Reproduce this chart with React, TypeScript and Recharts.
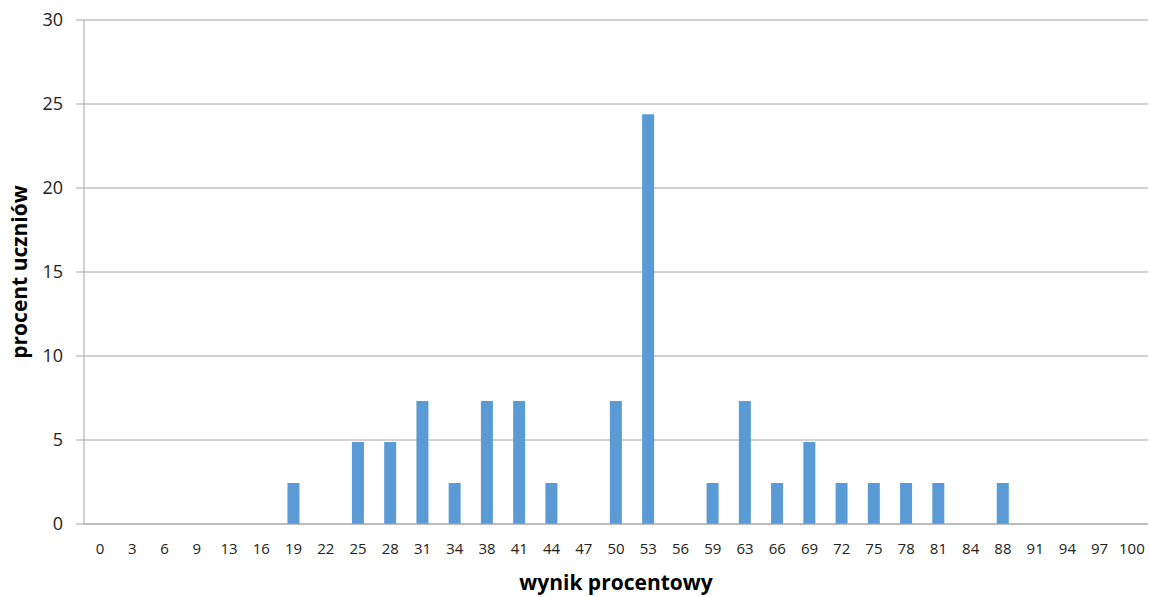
import { BarChart, Bar, XAxis, YAxis, CartesianGrid } from "recharts";

// wynik procentowy -> procent uczniów (41 uczniów)
const categories = [
  "0", "3", "6", "9", "13", "16", "19", "22", "25", "28", "31", "34", "38",
  "41", "44", "47", "50", "53", "56", "59", "63", "66", "69", "72", "75",
  "78", "81", "84", "88", "91", "94", "97", "100",
];
const percents = [
  0, 0, 0, 0, 0, 0, 2.44, 0, 4.88, 4.88, 7.32, 2.44, 7.32,
  7.32, 2.44, 0, 7.32, 24.39, 0, 2.44, 7.32, 2.44, 4.88, 2.44, 2.44,
  2.44, 2.44, 0, 2.44, 0, 0, 0, 0,
];
const yTicks = [0, 5, 10, 15, 20, 25, 30];

const data = categories.map((c, i) => ({ cat: c, val: percents[i] }));

const FONT = "'Open Sans', sans-serif";
const GRID = "#a6a6a6";

function YLabel(props: any) {
  const vb = props.viewBox || { x: 0, y: 0, width: 0, height: 0 };
  const cx = vb.x + 27;
  const cy = vb.y + vb.height / 2;
  return (
    <text
      x={cx}
      y={cy}
      transform={`rotate(-90, ${cx}, ${cy})`}
      textAnchor="middle"
      fontFamily={FONT}
      fontWeight="bold"
      fontSize={21}
      fill="#000"
    >
      procent uczniów
    </text>
  );
}

export default function App() {
  return (
    <div style={{ position: "absolute", left: 0, top: 0, background: "#fff" }}>
      <BarChart
        width={1149}
        height={597}
        data={data}
        margin={{ top: 20, right: 1, left: 0, bottom: 0 }}
        barCategoryGap="31%"
      >
        <CartesianGrid vertical={false} stroke={GRID} strokeWidth={1} />
        <XAxis
          dataKey="cat"
          interval={0}
          height={73}
          tickLine={false}
          tickSize={6}
          tickMargin={13}
          axisLine={{ stroke: GRID }}
          tick={{ fill: "#222", fontSize: 15, fontFamily: FONT }}
          label={{
            value: "wynik procentowy",
            position: "insideBottom",
            offset: 7,
            fill: "#000",
            fontSize: 21,
            fontWeight: "bold",
            fontFamily: FONT,
          }}
        />
        <YAxis
          width={84}
          domain={[0, 30]}
          ticks={yTicks}
          interval={0}
          tickSize={8}
          tickMargin={13}
          tickLine={{ stroke: GRID }}
          axisLine={{ stroke: GRID }}
          tick={{ fill: "#222", fontSize: 18, fontFamily: FONT }}
          label={<YLabel />}
        />
        <Bar dataKey="val" fill="#5b9bd5" isAnimationActive={false} />
      </BarChart>
    </div>
  );
}
